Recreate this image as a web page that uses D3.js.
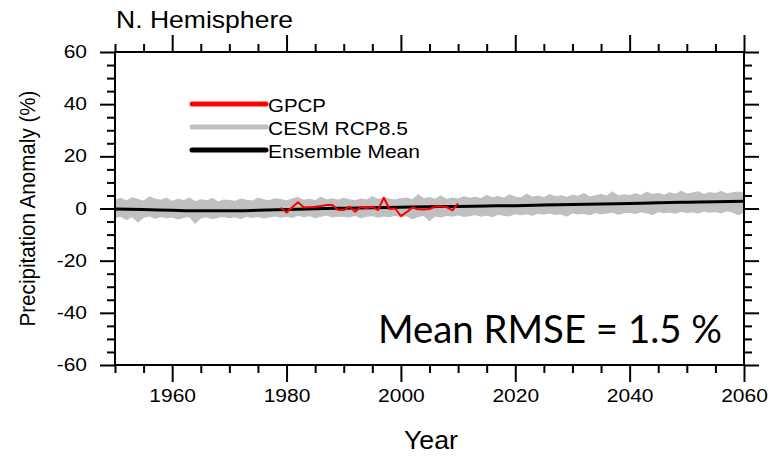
<!DOCTYPE html>
<html>
<head>
<meta charset="utf-8">
<script src="https://cdn.jsdelivr.net/npm/d3@7"></script>
<style>
  body { margin: 0; background: #fff; }
  svg { display: block; }
  text { font-family: "Liberation Sans", Arial, Helvetica, sans-serif; fill: #000; }
</style>
</head>
<body>
<svg id="chart" width="771" height="457"></svg>
<script>
// ---- data -------------------------------------------------------------
const firstYear = 1950;
const lastYear = 2060;

// CESM RCP8.5 ensemble spread (max / min across members), % anomaly, 1950-2060
const ensembleMax = [
  3.2, 3.8, 2.9, 4.1, 3.4, 2.8, 4.4, 3.6, 3.1, 3.9,
  2.7, 3.5, 3.0, 4.0, 2.6, 3.3, 2.9, 3.8, 2.5, 3.2,
  3.0, 2.7, 3.6, 3.1, 2.8, 3.9, 3.3, 2.9, 3.7, 3.4,
  2.9, 3.6, 4.2, 3.1, 3.5, 3.0, 4.3, 3.2, 3.7, 3.1,
  3.9, 3.3, 2.9, 3.6, 3.2, 4.5, 3.4, 4.1, 3.6, 3.2,
  3.8, 4.0, 3.3, 5.3, 3.7, 4.2, 3.5, 4.8, 3.4, 4.0,
  3.6, 4.5, 3.9, 4.3, 3.7, 5.0, 4.1, 4.6, 3.9, 5.2,
  4.4, 4.0, 5.5, 4.3, 4.8, 4.1, 5.3, 4.5, 4.9, 4.2,
  5.1, 4.6, 5.7, 4.4, 4.9, 5.4, 4.7, 6.3, 4.8, 5.2,
  4.9, 5.6, 5.0, 6.2, 5.3, 5.8, 5.1, 6.0, 5.4, 6.6,
  5.5, 5.9, 6.4, 5.3, 6.1, 5.7, 6.5, 5.6, 6.0, 6.3,
  5.8
];
const ensembleMin = [
  -3.4, -2.9, -4.2, -3.1, -5.1, -3.3, -2.8, -3.7, -3.0, -3.5,
  -3.2, -4.0, -3.4, -3.0, -5.6, -3.6, -3.1, -3.9, -3.3, -3.0,
  -3.5, -3.1, -3.8, -2.9, -3.4, -3.0, -3.6, -3.2, -2.8, -3.3,
  -2.9, -3.4, -2.6, -3.1, -2.7, -3.5, -2.9, -2.5, -3.2, -2.8,
  -2.9, -3.2, -2.6, -3.5, -2.9, -2.7, -3.3, -2.8, -3.1, -2.6,
  -3.1, -2.7, -3.9, -3.0, -2.6, -4.6, -2.8, -3.2, -2.6, -2.9,
  -2.4, -3.0, -2.7, -2.3, -2.9, -2.5, -3.1, -2.2, -2.6, -2.8,
  -1.9, -2.4, -2.0, -2.6, -1.8, -2.2, -1.7, -2.3, -2.0, -2.9,
  -1.6, -2.1, -1.8, -2.4, -1.5, -2.0, -1.7, -1.3, -2.2, -1.6,
  -1.4, -1.9, -1.2, -1.7, -2.3, -1.1, -1.6, -1.3, -1.8, -1.0,
  -1.5, -1.2, -1.7, -0.9, -1.4, -1.1, -1.6, -0.8, -1.3, -2.4,
  -1.2
];

// ensemble mean, % anomaly, sampled every 5 years 1950-2060
const meanYears = [1950, 1955, 1960, 1965, 1970, 1975, 1980, 1985, 1990, 1995, 2000,
                   2005, 2010, 2015, 2020, 2025, 2030, 2035, 2040, 2045, 2050, 2055, 2060];
const meanValues = [-0.2, -0.4, -0.7, -0.9, -0.9, -0.7, -0.4, -0.1, 0.1, 0.3, 0.5,
                    0.7, 0.8, 1.0, 1.1, 1.3, 1.5, 1.7, 1.9, 2.2, 2.4, 2.6, 2.8];

// GPCP observations, % anomaly, 1979-2010
const gpcpYears = d3.range(1979, 2011);
const gpcpValues = [
  0.3, -1.5, 0.5, 2.4, 0.5, 0.5, 0.7, 1.0, 1.3, 1.3,
  -0.6, -0.6, 0.7, -1.2, 0.7, 0.2, 0.7, -0.6, 4.2, -0.2,
  0.0, -2.9, -1.4, 0.4, -0.3, -0.4, -0.2, 0.8, 0.9, 0.5,
  -0.7, 2.0
];

const xMajor = [1960, 1980, 2000, 2020, 2040, 2060];
const yMajor = [-60, -40, -20, 0, 20, 40, 60];

const legendItems = [
  { label: "GPCP", color: "#ff0000", textWidth: 58 },
  { label: "CESM RCP8.5", color: "#c0c0c0", textWidth: 140 },
  { label: "Ensemble Mean", color: "#000000", textWidth: 152 }
];

// ---- helpers ----------------------------------------------------------
function fitWidth(sel, w) {
  sel.attr("textLength", w).attr("lengthAdjust", "spacingAndGlyphs");
}
function stretch(sel, f) {
  sel.each(function () {
    const n = this.getComputedTextLength();
    d3.select(this).attr("textLength", n * f).attr("lengthAdjust", "spacingAndGlyphs");
  });
}

// ---- layout -----------------------------------------------------------
const svg = d3.select("#chart");
const plotLeft = 115, plotRight = 744, plotTop = 52, plotBottom = 365;

const x = d3.scaleLinear().domain([firstYear, lastYear]).range([plotLeft, plotRight]);
const y = d3.scaleLinear().domain([-60, 60]).range([plotBottom, plotTop]);

const years = d3.range(firstYear, lastYear + 1);

// ensemble spread band
const band = d3.area()
  .x((d, i) => x(years[i]))
  .y0((d, i) => y(ensembleMin[i]))
  .y1((d, i) => y(ensembleMax[i]));
svg.append("path")
  .datum(ensembleMax)
  .attr("d", band)
  .attr("fill", "#c0c0c0")
  .attr("stroke", "#c0c0c0")
  .attr("stroke-width", 1.2)
  .attr("stroke-linejoin", "round");

// ensemble mean
const meanLine = d3.line().x((d, i) => x(meanYears[i])).y(d => y(d)).curve(d3.curveMonotoneX);
svg.append("path")
  .datum(meanValues)
  .attr("d", meanLine)
  .attr("fill", "none")
  .attr("stroke", "#000")
  .attr("stroke-width", 3);

// GPCP observations
const gpcpLine = d3.line().x((d, i) => x(gpcpYears[i])).y(d => y(d));
svg.append("path")
  .datum(gpcpValues)
  .attr("d", gpcpLine)
  .attr("fill", "none")
  .attr("stroke", "#ff0000")
  .attr("stroke-width", 2)
  .attr("stroke-linejoin", "round");

// ---- axes (ticks pointing outward on all four sides) -------------------
const xMinor = d3.range(firstYear, lastYear + 1, 5).filter(v => !xMajor.includes(v));
const yMinor = d3.range(-60, 61, 5).filter(v => !yMajor.includes(v));
const plainNumber = d => String(d);

function addAxis(axis, transform) {
  const g = svg.append("g").attr("transform", transform).call(axis);
  g.selectAll(".domain").remove();
  g.selectAll("line").attr("stroke", "#000").attr("stroke-width", 2);
  g.attr("font-family", null).attr("font-size", null);
  return g;
}

// bottom
const bx = addAxis(d3.axisBottom(x).tickValues(xMajor).tickSize(17).tickPadding(8).tickFormat(plainNumber),
  `translate(0,${plotBottom})`);
bx.selectAll("text").style("font-size", "17.5px").call(stretch, 1.2);
addAxis(d3.axisBottom(x).tickValues(xMinor).tickSize(8).tickFormat(""), `translate(0,${plotBottom})`);
// top
addAxis(d3.axisTop(x).tickValues(xMajor).tickSize(17).tickFormat(""), `translate(0,${plotTop})`);
addAxis(d3.axisTop(x).tickValues(xMinor).tickSize(8).tickFormat(""), `translate(0,${plotTop})`);
// left
const ly = addAxis(d3.axisLeft(y).tickValues(yMajor).tickSize(15).tickPadding(13).tickFormat(plainNumber),
  `translate(${plotLeft},0)`);
ly.selectAll("text").style("font-size", "17.5px").call(stretch, 1.2);
addAxis(d3.axisLeft(y).tickValues(yMinor).tickSize(8).tickFormat(""), `translate(${plotLeft},0)`);
// right
addAxis(d3.axisRight(y).tickValues(yMajor).tickSize(15).tickFormat(""), `translate(${plotRight},0)`);
addAxis(d3.axisRight(y).tickValues(yMinor).tickSize(8).tickFormat(""), `translate(${plotRight},0)`);

// frame
svg.append("rect")
  .attr("x", plotLeft).attr("y", plotTop)
  .attr("width", plotRight - plotLeft).attr("height", plotBottom - plotTop)
  .attr("fill", "none").attr("stroke", "#000").attr("stroke-width", 2);

// ---- titles -----------------------------------------------------------
svg.append("text").attr("x", 116).attr("y", 28)
  .style("font-size", "24px").text("N. Hemisphere")
  .call(fitWidth, 177);

svg.append("text")
  .attr("transform", `translate(35,${(plotTop + plotBottom) / 2}) rotate(-90)`)
  .attr("text-anchor", "middle")
  .style("font-size", "21.5px")
  .text("Precipitation Anomaly (%)")
  .call(fitWidth, 236);

svg.append("text").attr("x", 431).attr("y", 449)
  .attr("text-anchor", "middle").style("font-size", "25px").text("Year")
  .call(fitWidth, 54);

svg.append("text").attr("x", 722).attr("y", 343)
  .attr("text-anchor", "end")
  .style("font-family", "Lato, 'Open Sans', sans-serif")
  .style("font-size", "38px")
  .text("Mean RMSE = 1.5 %")
  .call(fitWidth, 344);

// ---- legend -----------------------------------------------------------
const legend = svg.append("g");
legendItems.forEach((item, i) => {
  const ly0 = 104 + i * 23;
  legend.append("line")
    .attr("x1", 192).attr("x2", 266).attr("y1", ly0).attr("y2", ly0)
    .attr("stroke", item.color).attr("stroke-width", 5)
    .attr("stroke-linecap", "round");
  legend.append("text").attr("x", 268).attr("y", ly0 + 7.5)
    .style("font-size", "18.5px").text(item.label)
    .call(fitWidth, item.textWidth);
});
</script>
</body>
</html>
